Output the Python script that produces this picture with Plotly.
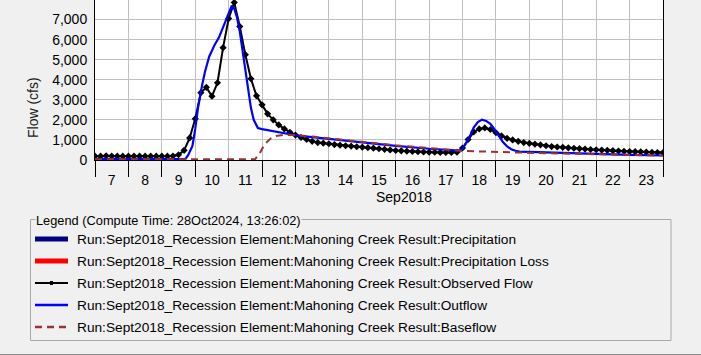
import pandas as pd
import plotly.graph_objects as go

# ---------------- data ----------------
obs_start = "2018-09-07 00:00"
observed_cfs = [
    190, 190, 210, 200, 190, 190,       # Sep 7
    190, 190, 190, 190, 190, 190,       # Sep 8
    190, 190, 200, 260, 480, 1100,      # Sep 9
    2050, 3350, 3620, 3180, 3850, 5600, # Sep 10
    7050, 7850, 6650, 5250, 4050, 3200, # Sep 11
    2750, 2300, 2000, 1750, 1550, 1380, # Sep 12
    1240, 1120, 1020, 930, 870, 840,    # Sep 13
    810, 770, 740, 710, 690, 660,       # Sep 14
    640, 615, 590, 560, 530, 500,       # Sep 15
    475, 455, 440, 425, 410, 400,       # Sep 16
    390, 385, 380, 380, 380, 385,       # Sep 17
    600, 1020, 1400, 1550, 1600, 1520,  # Sep 18
    1360, 1200, 1080, 1000, 930, 870,   # Sep 19
    830, 790, 750, 710, 670, 650,       # Sep 20
    630, 605, 585, 565, 545, 525,       # Sep 21
    510, 495, 480, 465, 450, 435,       # Sep 22
    425, 415, 405, 395, 385, 375,       # Sep 23
    370,                                # Sep 24
]

outflow_times = [
    "2018-09-07 00:00", "2018-09-09 12:00", "2018-09-09 17:00", "2018-09-09 19:00",
    "2018-09-09 22:00", "2018-09-10 00:00", "2018-09-10 02:00", "2018-09-10 05:00",
    "2018-09-10 07:00", "2018-09-10 10:00", "2018-09-10 12:00", "2018-09-10 14:00",
    "2018-09-10 17:00", "2018-09-10 19:00", "2018-09-10 22:00", "2018-09-11 00:00",
    "2018-09-11 02:00", "2018-09-11 04:00", "2018-09-11 06:00", "2018-09-11 08:00",
    "2018-09-11 10:00", "2018-09-11 12:00", "2018-09-11 14:00", "2018-09-11 16:00",
    "2018-09-11 18:00", "2018-09-11 21:00", "2018-09-12 00:00", "2018-09-12 12:00",
    "2018-09-13 00:00", "2018-09-13 12:00", "2018-09-14 00:00", "2018-09-14 12:00",
    "2018-09-15 00:00", "2018-09-15 12:00", "2018-09-16 00:00", "2018-09-16 12:00",
    "2018-09-17 00:00", "2018-09-17 12:00", "2018-09-17 22:00", "2018-09-18 00:00",
    "2018-09-18 03:00", "2018-09-18 06:00", "2018-09-18 08:00", "2018-09-18 11:00",
    "2018-09-18 14:00", "2018-09-18 17:00", "2018-09-18 20:00", "2018-09-18 22:00",
    "2018-09-19 00:00", "2018-09-19 03:00", "2018-09-19 05:00", "2018-09-19 08:00",
    "2018-09-19 11:00", "2018-09-19 14:00", "2018-09-19 17:00", "2018-09-20 00:00",
    "2018-09-20 12:00", "2018-09-21 00:00", "2018-09-21 12:00", "2018-09-22 00:00",
    "2018-09-22 12:00", "2018-09-23 00:00", "2018-09-23 12:00", "2018-09-24 00:00",
]
outflow_cfs = [
    40, 40, 60, 250,
    700, 1550, 2600, 3750,
    4400, 5150, 5500, 5750,
    6100, 6450, 6900, 7300,
    7650, 7550, 7100, 6400,
    5500, 4500, 3600, 2600,
    2000, 1590, 1540, 1390,
    1235, 1140, 1060, 970,
    890, 790, 700, 620,
    560, 510, 470, 560,
    890, 1300, 1620, 1890,
    2010, 1950, 1800, 1620,
    1400, 1100, 890, 680,
    540, 460, 420, 400,
    370, 345, 320, 300,
    280, 260, 240, 225,
]

baseflow_times = [
    "2018-09-07 00:00", "2018-09-11 19:00", "2018-09-11 22:00", "2018-09-12 02:00",
    "2018-09-12 06:00", "2018-09-12 10:00", "2018-09-12 15:00", "2018-09-13 00:00",
    "2018-09-13 12:00", "2018-09-14 00:00", "2018-09-14 12:00", "2018-09-15 00:00",
    "2018-09-15 12:00", "2018-09-16 00:00", "2018-09-16 12:00", "2018-09-17 00:00",
    "2018-09-17 12:00", "2018-09-18 00:00", "2018-09-18 12:00", "2018-09-19 00:00",
    "2018-09-19 12:00", "2018-09-20 00:00", "2018-09-20 12:00", "2018-09-21 00:00",
    "2018-09-21 12:00", "2018-09-22 00:00", "2018-09-22 12:00", "2018-09-23 00:00",
    "2018-09-23 12:00", "2018-09-24 00:00",
]
baseflow_cfs = [
    40, 40, 300, 800,
    1060, 1200, 1250, 1245,
    1170, 1090, 1000, 920,
    820, 730, 650, 585,
    525, 450, 420, 395,
    370, 350, 335, 320,
    300, 285, 265, 250,
    230, 215,
]

y_ticks = [0, 1000, 2000, 3000, 4000, 5000, 6000, 7000]

legend_title = "Legend (Compute Time: 28Oct2024, 13:26:02)"
legend_labels = [
    "Run:Sept2018_Recession Element:Mahoning Creek Result:Precipitation",
    "Run:Sept2018_Recession Element:Mahoning Creek Result:Precipitation Loss",
    "Run:Sept2018_Recession Element:Mahoning Creek Result:Observed Flow",
    "Run:Sept2018_Recession Element:Mahoning Creek Result:Outflow",
    "Run:Sept2018_Recession Element:Mahoning Creek Result:Baseflow",
]

# ---------------- figure ----------------
W, H = 701, 355
FONT = "Liberation Sans, Arial, sans-serif"
BROWN = "#993333"

obs_times = pd.date_range(obs_start, periods=len(observed_cfs), freq="4h")

fig = go.Figure()
fig.add_trace(go.Scatter(
    x=obs_times, y=observed_cfs, mode="lines+markers",
    line=dict(color="black", width=2),
    marker=dict(symbol="diamond", size=5.5, color="black"), showlegend=False))
fig.add_trace(go.Scatter(
    x=outflow_times, y=outflow_cfs, mode="lines",
    line=dict(color="#0000ff", width=2.2), showlegend=False))
fig.add_trace(go.Scatter(
    x=baseflow_times, y=baseflow_cfs, mode="lines",
    line=dict(color=BROWN, width=2, dash="7px,5px"), showlegend=False))

L, R, T, B = 95, 38, 0, 195
PW, PH = W - L - R, H - T - B
fig.update_layout(
    width=W, height=H,
    margin=dict(l=L, r=R, t=T, b=B, pad=0, autoexpand=False),
    paper_bgcolor="#f0f0f0", plot_bgcolor="white",
    font=dict(family=FONT, size=14, color="black"),
    showlegend=False,
)
fig.update_xaxes(
    automargin=False,
    range=["2018-09-07", "2018-09-24"],
    tick0="2018-09-07", dtick=86400000, ticklabelmode="period", tickformat="%-d",
    ticks="outside", ticklen=16, tickcolor="black", tickwidth=1,
    ticklabelstandoff=-9,
    showgrid=True, gridcolor="#c0c0c0", gridwidth=1,
    showline=True, linecolor="black", linewidth=1, mirror=True,
    tickfont=dict(size=14, color="black"),
)
fig.update_yaxes(
    automargin=False,
    range=[0, 7975], tickvals=y_ticks, tickformat=",",
    ticks="", showgrid=True, gridcolor="#c0c0c0", gridwidth=1,
    showline=True, linecolor="black", linewidth=1, mirror=True,
    tickfont=dict(size=14, color="black"), ticklabelstandoff=4,
    zeroline=False,
)

def px(xp):
    return (xp - L) / PW

def py(yp):
    return 1 - (yp - T) / PH

annots = []
shapes = []
# axis titles
annots.append(dict(x=px(404), y=py(197), xref="paper", yref="paper", text="Sep2018",
                   showarrow=False, font=dict(size=14, color="black"),
                   xanchor="center", yanchor="middle"))
annots.append(dict(x=px(33), y=py(108), xref="paper", yref="paper", text="Flow (cfs)",
                   showarrow=False, textangle=-90, font=dict(size=14, color="#1a1a1a"),
                   xanchor="center", yanchor="middle"))

# legend box
shapes.append(dict(type="rect", xref="paper", yref="paper",
                   x0=px(30.5), x1=px(671), y0=py(340.5), y1=py(219.5),
                   line=dict(color="#a8a8a8", width=1), fillcolor="rgba(0,0,0,0)"))
annots.append(dict(x=px(35), y=py(220), xref="paper", yref="paper", text=legend_title,
                   showarrow=False, font=dict(size=12.8, color="black"),
                   bgcolor="#f0f0f0", borderpad=0,
                   xanchor="left", yanchor="middle"))

rows = [239, 261, 283, 305, 327]
x0s, x1s = 35, 68
# legend samples
shapes.append(dict(type="line", xref="paper", yref="paper", x0=px(x0s), x1=px(x1s),
                   y0=py(rows[0]), y1=py(rows[0]), line=dict(color="#000080", width=5)))
shapes.append(dict(type="line", xref="paper", yref="paper", x0=px(x0s), x1=px(x1s),
                   y0=py(rows[1]), y1=py(rows[1]), line=dict(color="#ff0000", width=5)))
shapes.append(dict(type="line", xref="paper", yref="paper", x0=px(x0s), x1=px(x1s),
                   y0=py(rows[2]), y1=py(rows[2]), line=dict(color="black", width=2)))
shapes.append(dict(type="rect", xref="paper", yref="paper", x0=px(50), x1=px(53),
                   y0=py(rows[2] + 2), y1=py(rows[2] - 2), line=dict(width=0),
                   fillcolor="black"))
shapes.append(dict(type="line", xref="paper", yref="paper", x0=px(x0s), x1=px(x1s),
                   y0=py(rows[3]), y1=py(rows[3]), line=dict(color="#0000ff", width=2.5)))
shapes.append(dict(type="line", xref="paper", yref="paper", x0=px(x0s), x1=px(x1s),
                   y0=py(rows[4]), y1=py(rows[4]),
                   line=dict(color=BROWN, width=2.5, dash="7px,5px")))
for r, lab in zip(rows, legend_labels):
    annots.append(dict(x=px(75), y=py(r), xref="paper", yref="paper", text=lab,
                       showarrow=False, font=dict(size=13.7, color="black"),
                       xanchor="left", yanchor="middle"))

# window bottom line
shapes.append(dict(type="line", xref="paper", yref="paper", x0=px(0), x1=px(W),
                   y0=py(354.5), y1=py(354.5), line=dict(color="#8a8a8a", width=1)))

fig.update_layout(annotations=annots, shapes=shapes)
fig.write_html("out.html",
               config={"displayModeBar": False},
               post_script="document.body.style.margin='0';document.body.style.overflow='hidden';")
